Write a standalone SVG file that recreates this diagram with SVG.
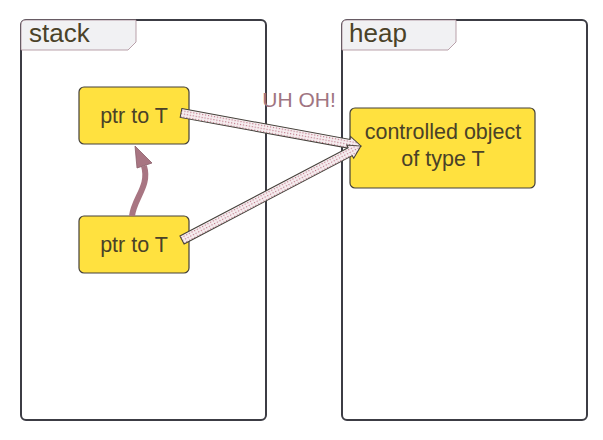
<svg xmlns="http://www.w3.org/2000/svg" width="603" height="440" viewBox="0 0 603 440">
<defs>
<style>
.frame{fill:#ffffff;stroke:#3c3c44;stroke-width:2}
.tab{fill:#f1f1f3;stroke:#a88a96;stroke-width:0.8}
.tabtxt{font-family:"Liberation Sans",Arial,sans-serif;font-size:26px;fill:#4a4228}
.node{fill:#ffe13f;stroke:#44403a;stroke-width:1.2}
.ntxt{font-family:"Liberation Sans",Arial,sans-serif;font-size:21.5px;fill:#4a4228;text-anchor:middle}
.wide{fill:url(#dots);stroke:#44403a;stroke-width:1}
.uh{font-family:"Liberation Sans",Arial,sans-serif;font-size:21px;fill:#a07582;text-anchor:middle}
</style>
<pattern id="dots" width="3" height="3" patternUnits="userSpaceOnUse">
<rect width="3" height="3" fill="#f6eef0"/>
<rect width="1.2" height="1.2" fill="#c0788a"/>
</pattern>
</defs>
<g id="stack">
<rect class="frame" x="21" y="20" width="245" height="400" rx="5"/>
<path class="tab" d="M21,25 Q21,20 26,20 L136,20 L136,42 L128,50 L21,50 Z"/>
<text class="tabtxt" x="29" y="42">stack</text>
</g>
<g id="heap">
<rect class="frame" x="342" y="20" width="245" height="400" rx="5"/>
<path class="tab" d="M342,25 Q342,20 347,20 L456,20 L456,42 L448,50 L342,50 Z"/>
<text class="tabtxt" x="349" y="42">heap</text>
</g>
<g id="ptr1">
<rect class="node" x="79" y="87" width="110" height="57" rx="5"/>
<text class="ntxt" x="134" y="123">ptr to T</text>
</g>
<g id="ptr2">
<rect class="node" x="79" y="216" width="110" height="57" rx="5"/>
<text class="ntxt" x="134" y="252">ptr to T</text>
</g>
<g id="obj">
<rect class="node" x="350" y="108" width="185" height="80" rx="5"/>
<text class="ntxt" x="443" y="139">controlled object</text>
<text class="ntxt" x="443" y="166">of type T</text>
</g>
<g id="connectors">
<polygon class="wide" transform="translate(181,113) rotate(10.39)" points="0,-4.5 171,-4.5 171,-7.5 183,0 171,7.5 171,4.5 0,4.5"/>
<polygon class="wide" transform="translate(182,240) rotate(-27.7)" points="0,-4.5 190,-4.5 190,-7.5 202,0 190,7.5 190,4.5 0,4.5"/>
<path d="M132,216 C134,198 150,186 144,166" fill="none" stroke="#a87582" stroke-width="6"/>
<polygon points="135,146 137,168 152,163" fill="#a87582" stroke="#8a5e6a" stroke-width="0.8"/>
<text class="uh" x="299" y="107">UH OH!</text>
</g>
</svg>
